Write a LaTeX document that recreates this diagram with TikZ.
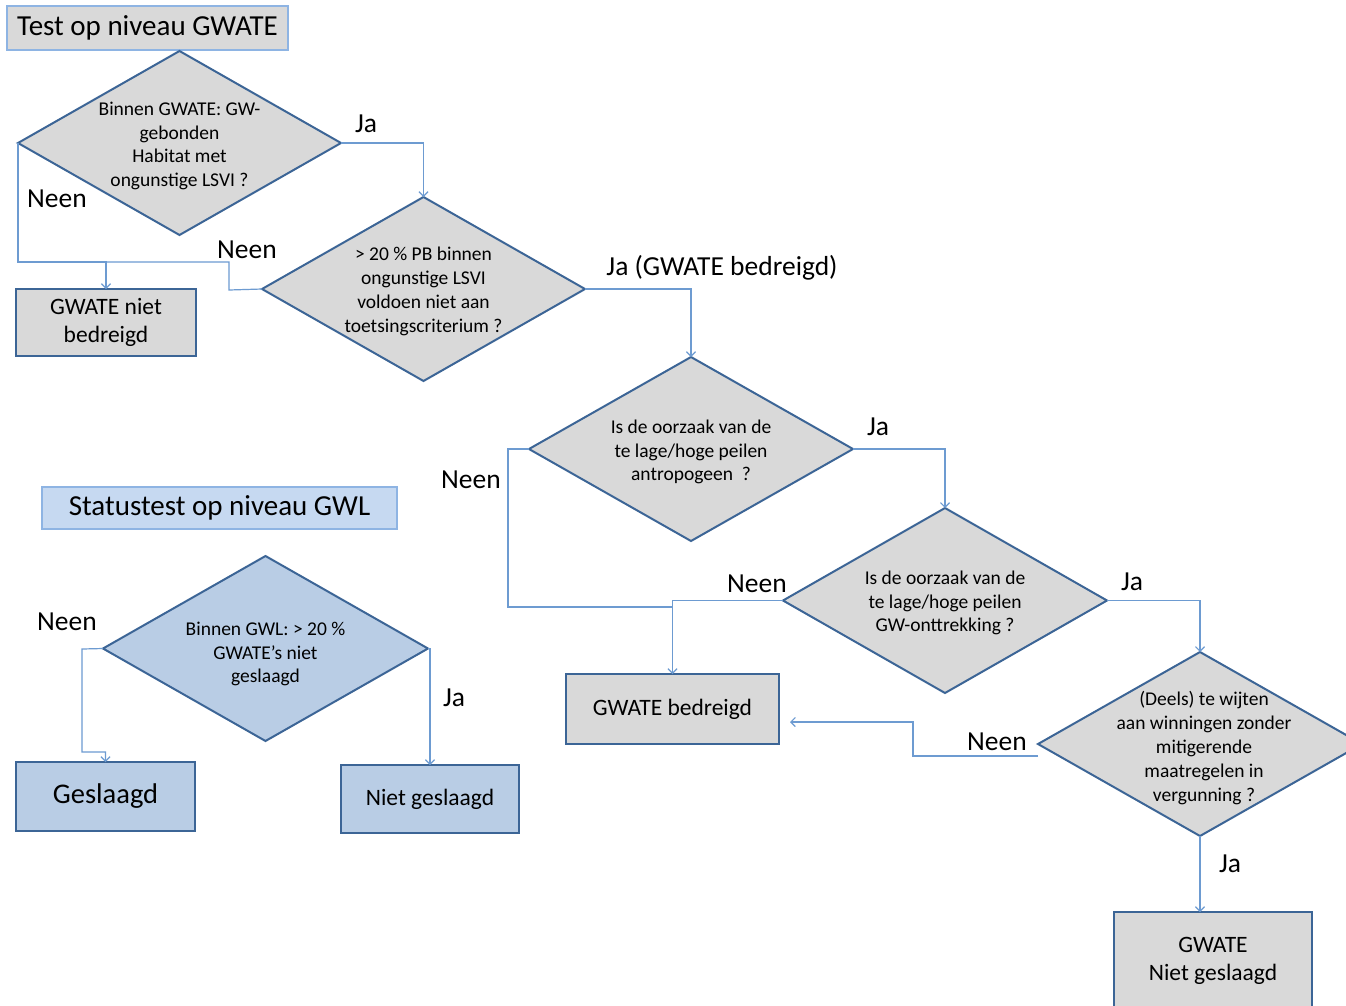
\documentclass[tikz,border=0pt]{standalone}
\usepackage{fontspec}
\setmainfont{Carlito}
\usetikzlibrary{arrows.meta,calc,shapes.geometric}
\definecolor{gfill}{HTML}{D9D9D9}
\definecolor{bfill}{HTML}{B9CDE5}
\definecolor{tbfill}{HTML}{C6D9F1}
\definecolor{dborder}{HTML}{3C6596}
\definecolor{lborder}{HTML}{8EB4E3}
\definecolor{conncol}{HTML}{6D9BD1}
\tikzset{
  dia/.style={shape=diamond, draw=dborder, line width=2pt, inner sep=0pt, outer sep=0pt,
              minimum width=323pt, minimum height=184pt},
  dtext/.style={align=center, inner sep=0pt, font=\fontsize{19.5}{23.8}\selectfont},
  titlebox/.style={draw=lborder, line width=2pt, inner sep=0pt, outer sep=0pt,
              font=\fontsize{29}{32}\selectfont},
  resbox/.style={draw=dborder, line width=2.5pt, inner sep=0pt, outer sep=0pt, align=center,
              font=\fontsize{23.5}{28}\selectfont},
  lbl/.style={inner sep=0pt, font=\fontsize{27.5}{32}\selectfont},
  conn/.style={draw=conncol, line width=1.2pt},
  arr/.style={conn, -{Straight Barb[length=4.5pt,width=9pt,line width=1.2pt]}},
}
\begin{document}
\begin{tikzpicture}[x=1pt,y=-1pt]
\fill[white] (0,0) rectangle (1346,1005);
\clip (0,0) rectangle (1346,1005);

% titles
\node[titlebox, fill=gfill, minimum width=281pt, minimum height=44pt] (t1) at (147.5,28) {Test op niveau GWATE};
\node[titlebox, fill=tbfill, minimum width=355pt, minimum height=42pt] (t2) at (219.5,508) {Statustest op niveau GWL};

% diamonds
\node[dia, fill=gfill] (d1) at (179.5,143) {};
\node[dtext] (d1t) at (179.5,146) {Binnen GWATE: GW-\\gebonden\\Habitat met\\ongunstige LSVI ?};
\node[dia, fill=gfill] (d2) at (423.5,289) {};
\node[dtext] (d2t) at (423.5,291.5) {> 20 \% PB binnen\\ongunstige LSVI\\voldoen niet aan\\toetsingscriterium ?};
\node[dia, fill=gfill, minimum width=324pt] (d3) at (691,449) {};
\node[dtext] (d3t) at (691,452) {Is de oorzaak van de\\te lage/hoge peilen\\antropogeen ~?};
\node[dia, fill=gfill, minimum width=324pt, minimum height=185pt] (d4) at (945,600.5) {};
\node[dtext] (d4t) at (945,603) {Is de oorzaak van de\\te lage/hoge peilen\\GW-onttrekking ?};
\node[dia, fill=gfill, minimum width=324pt] (d5) at (1200,744) {};
\node[dtext] (d5t) at (1204,748) {(Deels) te wijten\\aan winningen zonder\\mitigerende\\maatregelen in\\vergunning ?};
\node[dia, fill=bfill, minimum width=325pt, minimum height=185pt] (d6) at (265.5,648.5) {};
\node[dtext] (d6t) at (265.5,654) {Binnen GWL: > 20 \%\\GWATE’s niet\\geslaagd};

% result boxes
\node[resbox, fill=gfill, minimum width=180pt, minimum height=67pt] (nb) at (106,322.5) {GWATE niet\\bedreigd};
\node[resbox, fill=gfill, minimum width=213pt, minimum height=70pt] (gb) at (672.5,709) {GWATE bedreigd};
\node[resbox, fill=gfill, minimum width=198pt, minimum height=98pt] (gn) at (1213,961) {GWATE\\Niet geslaagd};
\node[resbox, fill=bfill, minimum width=179pt, minimum height=69pt, font=\fontsize{28.5}{32}\selectfont] (ge) at (105.5,796.5) {Geslaagd};
\node[resbox, fill=bfill, minimum width=178pt, minimum height=68pt] (ng) at (430,799) {Niet geslaagd};

% junction coordinates
\coordinate (j1) at (106,262);
\coordinate (j1b) at (229,290);
\coordinate (j2) at (672,607);
\coordinate (j2b) at (508,449);
\coordinate (d5n) at (1038,756);
\coordinate (k1) at (913,756);
\coordinate (k2) at (913,722);
\coordinate (k3) at (790,722);
\coordinate (g1) at (82,649);
\coordinate (g2) at (105.5,752);

% connectors
\draw[arr] (d1.east) -| (d2.north);
\draw[arr] (d1.west) |- (j1) -- (nb.north);
\draw[conn] (d2.west) -- (j1b) |- (j1);
\draw[arr] (d2.east) -| (d3.north);
\draw[arr] (d3.east) -| (d4.north);
\draw[conn] (d3.west) -- (j2b) |- (j2);
\draw[arr] (d4.west) -| (gb.north);
\draw[arr] (d4.east) -| (d5.north);
\draw[arr] (d5n) -- (k1) -- (k2) -- (k3);
\draw[arr] (d5.south) -- (d5.south |- gn.north);
\draw[arr] (d6.west) -- (g1) |- (g2) -- (ge.north);
\draw[arr] (d6.east) -| (ng.north);

% labels
\node[lbl] (l1) at (366,124) {Ja};
\node[lbl] (l2) at (57,199) {Neen};
\node[lbl] (l3) at (247,250) {Neen};
\node[lbl] (l4) at (722,268) {Ja (GWATE bedreigd)};
\node[lbl] (l5) at (878,427) {Ja};
\node[lbl] (l6) at (471,480) {Neen};
\node[lbl] (l7) at (757,584) {Neen};
\node[lbl] (l8) at (1132,582) {Ja};
\node[lbl] (l9) at (997,742) {Neen};
\node[lbl] (l10) at (1230,864) {Ja};
\node[lbl] (l11) at (67,622) {Neen};
\node[lbl] (l12) at (454,698) {Ja};
\end{tikzpicture}
\end{document}
